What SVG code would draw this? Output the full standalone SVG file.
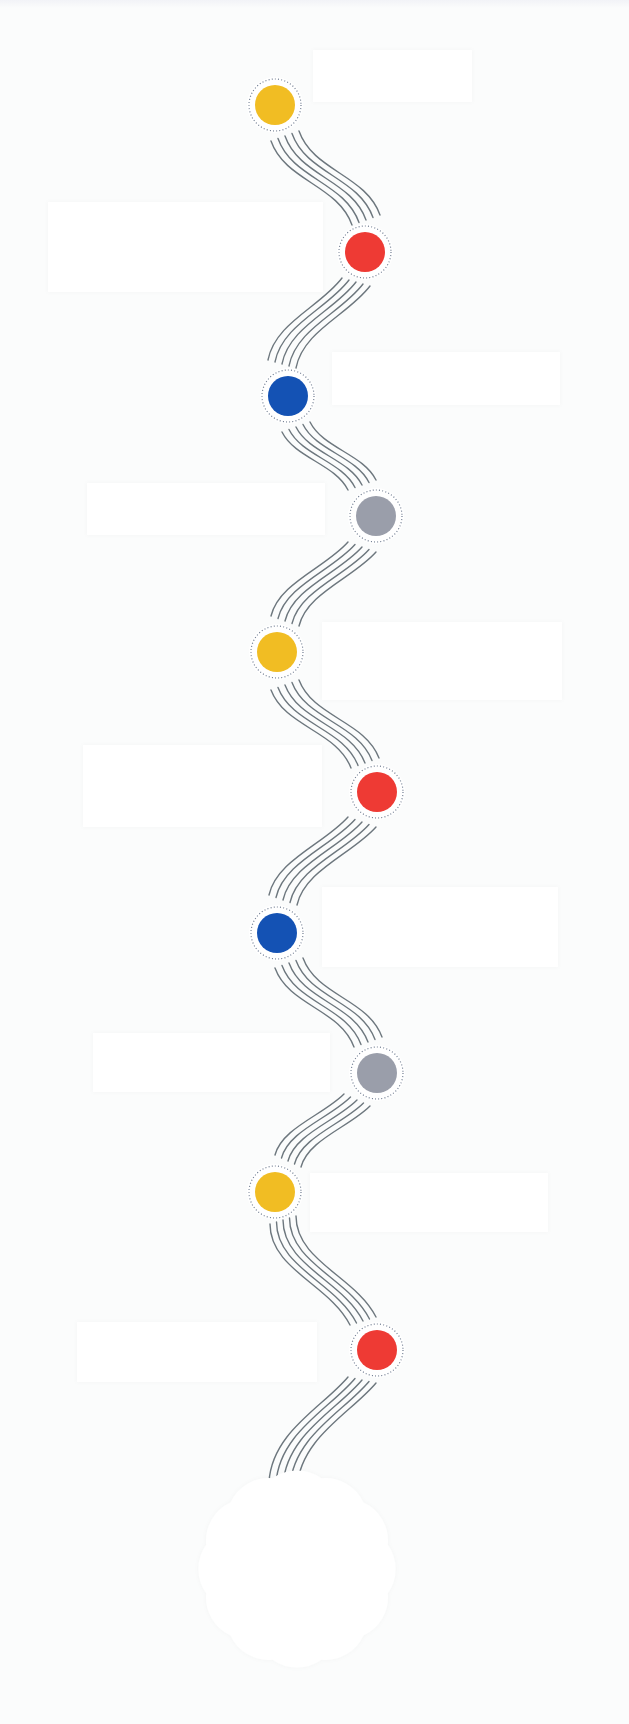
<svg xmlns="http://www.w3.org/2000/svg" xmlns:xlink="http://www.w3.org/1999/xlink" width="629" height="1724" viewBox="0 0 629 1724">
<style>
.box{fill:#ffffff;filter:url(#soft)}
.halo{fill:#ffffff}
.ring{fill:none;stroke:#6f7c90;stroke-width:1.2;stroke-dasharray:1 2.2}
.dot{stroke:none}
.y{fill:#f1bd23}.r{fill:#ee3a34}.b{fill:#1452b4}.g{fill:#9a9eaa}
.wire{fill:none;stroke:#6d777e;stroke-width:1.4;stroke-linecap:round}
</style>
<defs>
<linearGradient id="topg" x1="0" y1="0" x2="0" y2="1">
<stop offset="0" stop-color="#f2f3f7"/>
<stop offset="1" stop-color="#fbfcfc"/>
</linearGradient>
<filter id="soft" x="-10%" y="-10%" width="120%" height="120%">
<feDropShadow dx="0" dy="0" stdDeviation="2" flood-color="#000" flood-opacity="0.03"/>
</filter>
<path id="p1" d="M285,136 C299,176 352,180 366,220"/>
<path id="p2" d="M356,282 C334,311 289,327 282,364"/>
<path id="p3" d="M296,427 C309,453 349,459 362,485"/>
<path id="p4" d="M362,547 C339,573 293,588 285,621"/>
<path id="p5" d="M285,685 C299,722 351,726 365,763"/>
<path id="p6" d="M362,822 C338,849 291,865 283,900"/>
<path id="p7" d="M289,963 C303,1001 354,1004 368,1042"/>
<path id="p8" d="M357,1100 C336,1121 295,1134 288,1161"/>
<path id="p9" d="M283,1220 C283,1265 343,1281 363,1321"/>
<path id="p10" d="M362,1380 C337,1410 286,1435 283,1485"/>
</defs>
<rect x="0" y="0" width="629" height="1724" fill="#fbfcfc"/>
<rect x="0" y="0" width="629" height="8" fill="url(#topg)"/>

<g id="boxes">
<rect id="box1" class="box" x="313" y="50" width="159" height="52"/>
<rect id="box2" class="box" x="48" y="202" width="275" height="90"/>
<rect id="box3" class="box" x="332" y="352" width="228" height="53"/>
<rect id="box4" class="box" x="87" y="483" width="238" height="52"/>
<rect id="box5" class="box" x="322" y="622" width="240" height="78"/>
<rect id="box6" class="box" x="83" y="745" width="239" height="82"/>
<rect id="box7" class="box" x="322" y="887" width="236" height="80"/>
<rect id="box8" class="box" x="93" y="1033" width="237" height="59"/>
<rect id="box9" class="box" x="310" y="1173" width="238" height="59"/>
<rect id="box10" class="box" x="77" y="1322" width="240" height="60"/>
</g>

<g id="connectors" class="wire">
<g id="c1"><use xlink:href="#p1" transform="translate(-14,5)"/><use xlink:href="#p1" transform="translate(-7,2.5)"/><use xlink:href="#p1"/><use xlink:href="#p1" transform="translate(7,-2.5)"/><use xlink:href="#p1" transform="translate(14,-5)"/></g>
<g id="c2"><use xlink:href="#p2" transform="translate(-14,-4)"/><use xlink:href="#p2" transform="translate(-7,-2)"/><use xlink:href="#p2"/><use xlink:href="#p2" transform="translate(7,2)"/><use xlink:href="#p2" transform="translate(14,4)"/></g>
<g id="c3"><use xlink:href="#p3" transform="translate(-14,5)"/><use xlink:href="#p3" transform="translate(-7,2.5)"/><use xlink:href="#p3"/><use xlink:href="#p3" transform="translate(7,-2.5)"/><use xlink:href="#p3" transform="translate(14,-5)"/></g>
<g id="c4"><use xlink:href="#p4" transform="translate(-14,-5)"/><use xlink:href="#p4" transform="translate(-7,-2.5)"/><use xlink:href="#p4"/><use xlink:href="#p4" transform="translate(7,2.5)"/><use xlink:href="#p4" transform="translate(14,5)"/></g>
<g id="c5"><use xlink:href="#p5" transform="translate(-14,5)"/><use xlink:href="#p5" transform="translate(-7,2.5)"/><use xlink:href="#p5"/><use xlink:href="#p5" transform="translate(7,-2.5)"/><use xlink:href="#p5" transform="translate(14,-5)"/></g>
<g id="c6"><use xlink:href="#p6" transform="translate(-14,-5)"/><use xlink:href="#p6" transform="translate(-7,-2.5)"/><use xlink:href="#p6"/><use xlink:href="#p6" transform="translate(7,2.5)"/><use xlink:href="#p6" transform="translate(14,5)"/></g>
<g id="c7"><use xlink:href="#p7" transform="translate(-14,5)"/><use xlink:href="#p7" transform="translate(-7,2.5)"/><use xlink:href="#p7"/><use xlink:href="#p7" transform="translate(7,-2.5)"/><use xlink:href="#p7" transform="translate(14,-5)"/></g>
<g id="c8"><use xlink:href="#p8" transform="translate(-13,-6)"/><use xlink:href="#p8" transform="translate(-6.5,-3)"/><use xlink:href="#p8"/><use xlink:href="#p8" transform="translate(6.5,3)"/><use xlink:href="#p8" transform="translate(13,6)"/></g>
<g id="c9"><use xlink:href="#p9" transform="translate(-13,4)"/><use xlink:href="#p9" transform="translate(-6.5,2)"/><use xlink:href="#p9"/><use xlink:href="#p9" transform="translate(6.5,-2)"/><use xlink:href="#p9" transform="translate(13,-4)"/></g>
<g id="c10"><use xlink:href="#p10" transform="translate(-14,-3)"/><use xlink:href="#p10" transform="translate(-7,-1.5)"/><use xlink:href="#p10"/><use xlink:href="#p10" transform="translate(7,1.5)"/><use xlink:href="#p10" transform="translate(14,3)"/></g>
</g>

<g id="node1"><circle class="halo" cx="275" cy="105" r="28"/><circle class="ring" cx="275" cy="105" r="26"/><circle class="dot y" cx="275" cy="105" r="20"/></g>
<g id="node2"><circle class="halo" cx="365" cy="252" r="28"/><circle class="ring" cx="365" cy="252" r="26"/><circle class="dot r" cx="365" cy="252" r="20"/></g>
<g id="node3"><circle class="halo" cx="288" cy="396" r="28"/><circle class="ring" cx="288" cy="396" r="26"/><circle class="dot b" cx="288" cy="396" r="20"/></g>
<g id="node4"><circle class="halo" cx="376" cy="516" r="28"/><circle class="ring" cx="376" cy="516" r="26"/><circle class="dot g" cx="376" cy="516" r="20"/></g>
<g id="node5"><circle class="halo" cx="277" cy="652" r="28"/><circle class="ring" cx="277" cy="652" r="26"/><circle class="dot y" cx="277" cy="652" r="20"/></g>
<g id="node6"><circle class="halo" cx="377" cy="792" r="28"/><circle class="ring" cx="377" cy="792" r="26"/><circle class="dot r" cx="377" cy="792" r="20"/></g>
<g id="node7"><circle class="halo" cx="277" cy="933" r="28"/><circle class="ring" cx="277" cy="933" r="26"/><circle class="dot b" cx="277" cy="933" r="20"/></g>
<g id="node8"><circle class="halo" cx="377" cy="1073" r="28"/><circle class="ring" cx="377" cy="1073" r="26"/><circle class="dot g" cx="377" cy="1073" r="20"/></g>
<g id="node9"><circle class="halo" cx="275" cy="1192" r="28"/><circle class="ring" cx="275" cy="1192" r="26"/><circle class="dot y" cx="275" cy="1192" r="20"/></g>
<g id="node10"><circle class="halo" cx="377" cy="1350" r="28"/><circle class="ring" cx="377" cy="1350" r="26"/><circle class="dot r" cx="377" cy="1350" r="20"/></g>

<g id="gear">
<path class="box" d="M321.33,1478.2 A42,42 0 0 1 363.47,1502.53 A42,42 0 0 1 387.8,1544.67 A42,42 0 0 1 387.8,1593.33 A42,42 0 0 1 363.47,1635.47 A42,42 0 0 1 321.33,1659.8 A42,42 0 0 1 272.67,1659.8 A42,42 0 0 1 230.53,1635.47 A42,42 0 0 1 206.2,1593.33 A42,42 0 0 1 206.2,1544.67 A42,42 0 0 1 230.53,1502.53 A42,42 0 0 1 272.67,1478.2 A42,42 0 0 1 321.33,1478.2 Z"/>
</g>
</svg>
